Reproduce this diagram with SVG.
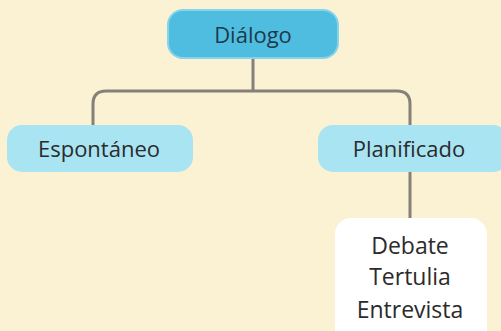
<svg xmlns="http://www.w3.org/2000/svg" width="501" height="331" viewBox="0 0 501 331">
<style>
.lbl{font-family:"Open Sans","Noto Sans","Liberation Sans",sans-serif;fill:#2b2b2b;text-anchor:middle}
.conn{fill:none;stroke:#85807a;stroke-width:3}
</style>
<rect x="0" y="0" width="501" height="331" fill="#fbf1d3"/>
<g id="connectors">
<path class="conn" d="M253 58 V90"/>
<path class="conn" d="M93 125 V104 Q93 91 106 91 H397 Q410 91 410 104 V125"/>
<path class="conn" d="M410 172 V220"/>
</g>
<g id="dialogo">
<rect x="168" y="10" width="170" height="48" rx="15" fill="#4fbde0" stroke="#86d3ec" stroke-width="2"/>
<text class="lbl" x="253" y="43" font-size="22" style="fill:#1d3a4c">Diálogo</text>
</g>
<g id="espontaneo">
<rect x="7" y="125" width="186" height="47" rx="15" fill="#a9e4f3"/>
<text class="lbl" x="99" y="157" font-size="22">Espontáneo</text>
</g>
<g id="planificado">
<rect x="318" y="125" width="190" height="47" rx="15" fill="#a9e4f3"/>
<text class="lbl" x="409" y="157" font-size="22">Planificado</text>
</g>
<g id="tipos">
<rect x="335" y="218" width="152" height="130" rx="16" fill="#ffffff"/>
<text class="lbl" x="410" y="254" font-size="23">Debate</text>
<text class="lbl" x="410" y="285" font-size="23">Tertulia</text>
<text class="lbl" x="410" y="318" font-size="23">Entrevista</text>
</g>
</svg>
